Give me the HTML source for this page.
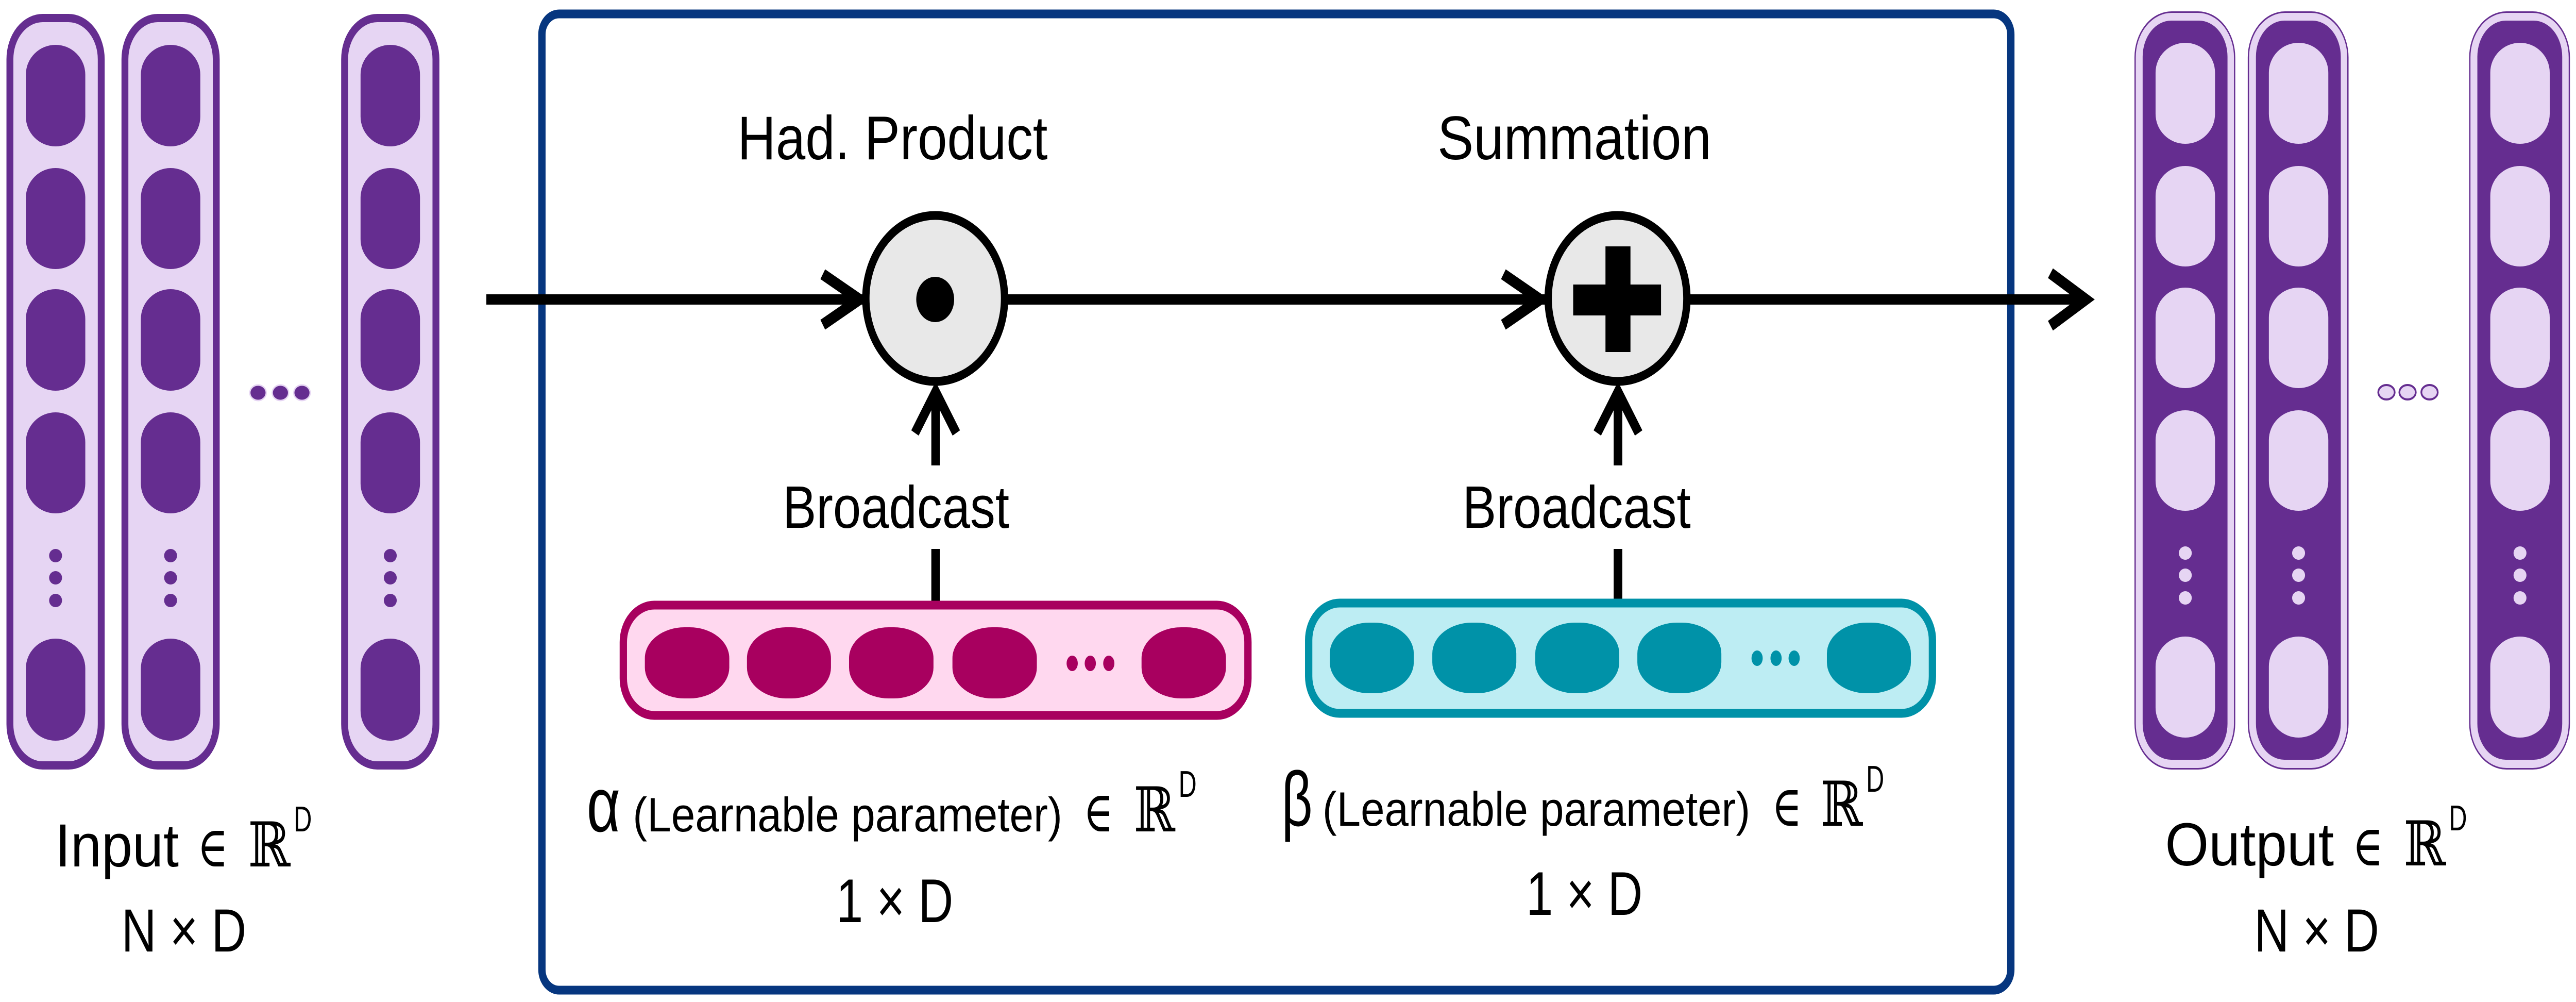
<!DOCTYPE html>
<html><head><meta charset="utf-8"><style>
html,body{margin:0;padding:0;background:#fff;overflow:hidden;width:100%;height:100%;}
svg{display:block;width:100vw;height:100vh;}
text{font-family:"Liberation Sans","DejaVu Sans",sans-serif;fill:#000;}
.m{font-family:"DejaVu Serif","Liberation Serif",serif;}
</style></head><body>
<svg viewBox="0 0 5980 1944" preserveAspectRatio="none" xmlns="http://www.w3.org/2000/svg">
<defs>
<g id="icol">
  <rect x="8" y="8" width="212" height="1450" rx="76" ry="80" fill="#e6d5f3" stroke="#652d90" stroke-width="16"/>
  <rect x="45" y="60" width="138" height="197" rx="69" ry="58" fill="#652d90"/>
  <rect x="45" y="299" width="138" height="196" rx="69" ry="58" fill="#652d90"/>
  <rect x="45" y="534" width="138" height="197" rx="69" ry="58" fill="#652d90"/>
  <rect x="45" y="773" width="138" height="196" rx="69" ry="58" fill="#652d90"/>
  <ellipse cx="114" cy="1051" rx="15" ry="13" fill="#652d90"/>
  <ellipse cx="114" cy="1094" rx="15" ry="13" fill="#652d90"/>
  <ellipse cx="114" cy="1138" rx="15" ry="13" fill="#652d90"/>
  <rect x="45" y="1212" width="138" height="198" rx="69" ry="58" fill="#652d90"/>
</g>
<g id="ocol">
  <rect x="1.5" y="1.5" width="231" height="1468" rx="85" ry="88" fill="#e6d5f3" stroke="#652d90" stroke-width="3"/>
  <rect x="19" y="18" width="197" height="1434" rx="66" ry="70" fill="#652d90"/>
  <rect x="49" y="61" width="138" height="196" rx="69" ry="58" fill="#e6d5f3"/>
  <rect x="49" y="300" width="138" height="195" rx="69" ry="58" fill="#e6d5f3"/>
  <rect x="49" y="536" width="138" height="195" rx="69" ry="58" fill="#e6d5f3"/>
  <rect x="49" y="774" width="138" height="195" rx="69" ry="58" fill="#e6d5f3"/>
  <ellipse cx="118" cy="1051" rx="15" ry="13" fill="#e6d5f3"/>
  <ellipse cx="118" cy="1094" rx="15" ry="13" fill="#e6d5f3"/>
  <ellipse cx="118" cy="1138" rx="15" ry="13" fill="#e6d5f3"/>
  <rect x="49" y="1213" width="138" height="196" rx="69" ry="58" fill="#e6d5f3"/>
</g>
</defs>

<use href="#icol" x="15" y="27"/>
<use href="#icol" x="282" y="27"/>
<use href="#icol" x="792" y="27"/>
<ellipse cx="599" cy="762" rx="19" ry="15" fill="#652d90" stroke="#e6d5f3" stroke-width="3"/>
<ellipse cx="651" cy="762" rx="19" ry="15" fill="#652d90" stroke="#e6d5f3" stroke-width="3"/>
<ellipse cx="701" cy="762" rx="19" ry="15" fill="#652d90" stroke="#e6d5f3" stroke-width="3"/>

<use href="#ocol" x="4955" y="22"/>
<use href="#ocol" x="5218" y="22"/>
<use href="#ocol" x="5732" y="22"/>
<ellipse cx="5540" cy="761" rx="19" ry="14" fill="#e6d5f3" stroke="#652d90" stroke-width="4"/>
<ellipse cx="5589" cy="761" rx="19" ry="14" fill="#e6d5f3" stroke="#652d90" stroke-width="4"/>
<ellipse cx="5640" cy="761" rx="19" ry="14" fill="#e6d5f3" stroke="#652d90" stroke-width="4"/>

<rect x="1258" y="27" width="3410" height="1894" rx="40" ry="40" fill="none" stroke="#06367f" stroke-width="17"/>

<line x1="1129" y1="581" x2="4840" y2="581" stroke="#000" stroke-width="20"/>
<polyline points="1910,532 1995,581 1910,630" fill="none" stroke="#000" stroke-width="22"/>
<polyline points="3490,532 3575,581 3490,630" fill="none" stroke="#000" stroke-width="22"/>
<polyline points="4760,530 4842,581 4760,632" fill="none" stroke="#000" stroke-width="22"/>

<circle cx="2171" cy="579" r="161" fill="#e8e8e8" stroke="#000" stroke-width="17"/>
<circle cx="2171" cy="581" r="44" fill="#000"/>
<circle cx="3755" cy="579" r="161" fill="#e8e8e8" stroke="#000" stroke-width="17"/>
<rect x="3727" y="478" width="58" height="205" fill="#000"/>
<rect x="3652" y="552" width="204" height="60" fill="#000"/>

<line x1="2172" y1="760" x2="2172" y2="903" stroke="#000" stroke-width="20"/>
<polyline points="2124,840 2172,760 2220,840" fill="none" stroke="#000" stroke-width="20"/>
<line x1="2172" y1="1065" x2="2172" y2="1175" stroke="#000" stroke-width="20"/>
<line x1="3756" y1="760" x2="3756" y2="903" stroke="#000" stroke-width="20"/>
<polyline points="3708,840 3756,760 3804,840" fill="none" stroke="#000" stroke-width="20"/>
<line x1="3756" y1="1065" x2="3756" y2="1170" stroke="#000" stroke-width="20"/>

<text x="1712" y="309" font-size="120" textLength="720" lengthAdjust="spacingAndGlyphs">Had. Product</text>
<text x="3337" y="309" font-size="120" textLength="636" lengthAdjust="spacingAndGlyphs">Summation</text>
<text x="1817" y="1024" font-size="116" textLength="526" lengthAdjust="spacingAndGlyphs">Broadcast</text>
<text x="3395" y="1024" font-size="116" textLength="530" lengthAdjust="spacingAndGlyphs">Broadcast</text>

<rect x="1447" y="1174" width="1450" height="214" rx="72" ry="72" fill="#ffd8ef" stroke="#a8005f" stroke-width="17"/>
<rect x="1497" y="1217" width="196" height="138" rx="92" ry="60" fill="#a8005f"/>
<rect x="1734" y="1217" width="195" height="138" rx="92" ry="60" fill="#a8005f"/>
<rect x="1971" y="1217" width="196" height="138" rx="92" ry="60" fill="#a8005f"/>
<rect x="2211" y="1217" width="196" height="138" rx="92" ry="60" fill="#a8005f"/>
<rect x="2650" y="1217" width="196" height="138" rx="92" ry="60" fill="#a8005f"/>
<ellipse cx="2489" cy="1287" rx="13" ry="15" fill="#a8005f"/>
<ellipse cx="2531" cy="1287" rx="13" ry="15" fill="#a8005f"/>
<ellipse cx="2574" cy="1287" rx="13" ry="15" fill="#a8005f"/>

<rect x="3038" y="1170" width="1448" height="214" rx="72" ry="72" fill="#bdedf3" stroke="#0092a8" stroke-width="17"/>
<rect x="3087" y="1208" width="195" height="137" rx="92" ry="60" fill="#0092a8"/>
<rect x="3325" y="1208" width="195" height="137" rx="92" ry="60" fill="#0092a8"/>
<rect x="3564" y="1208" width="195" height="137" rx="92" ry="60" fill="#0092a8"/>
<rect x="3801" y="1208" width="195" height="137" rx="92" ry="60" fill="#0092a8"/>
<rect x="4241" y="1208" width="195" height="137" rx="92" ry="60" fill="#0092a8"/>
<ellipse cx="4079" cy="1277" rx="13" ry="15" fill="#0092a8"/>
<ellipse cx="4123" cy="1277" rx="13" ry="15" fill="#0092a8"/>
<ellipse cx="4165" cy="1277" rx="13" ry="15" fill="#0092a8"/>

<text x="1362" y="1613" font-size="150" textLength="78" lengthAdjust="spacingAndGlyphs">α</text>
<text x="1469" y="1613" font-size="94" textLength="997" lengthAdjust="spacingAndGlyphs">(Learnable parameter)</text>
<text x="2515" y="1613" font-size="110" class="m" textLength="70" lengthAdjust="spacingAndGlyphs">∈</text>
<text x="2632" y="1613" font-size="120" class="m" textLength="96" lengthAdjust="spacingAndGlyphs">ℝ</text>
<text x="2736" y="1546" font-size="72" textLength="42" lengthAdjust="spacingAndGlyphs">D</text>
<text x="1941" y="1789" font-size="120" textLength="272" lengthAdjust="spacingAndGlyphs">1 × D</text>

<text x="2975" y="1602" font-size="150" textLength="72" lengthAdjust="spacingAndGlyphs">β</text>
<text x="3070" y="1602" font-size="94" textLength="993" lengthAdjust="spacingAndGlyphs">(Learnable parameter)</text>
<text x="4113" y="1602" font-size="110" class="m" textLength="70" lengthAdjust="spacingAndGlyphs">∈</text>
<text x="4226" y="1602" font-size="120" class="m" textLength="98" lengthAdjust="spacingAndGlyphs">ℝ</text>
<text x="4332" y="1536" font-size="72" textLength="42" lengthAdjust="spacingAndGlyphs">D</text>
<text x="3543" y="1775" font-size="120" textLength="270" lengthAdjust="spacingAndGlyphs">1 × D</text>

<text x="128" y="1681" font-size="118" textLength="287" lengthAdjust="spacingAndGlyphs">Input</text>
<text x="458" y="1681" font-size="110" class="m" textLength="72" lengthAdjust="spacingAndGlyphs">∈</text>
<text x="576" y="1681" font-size="120" class="m" textLength="98" lengthAdjust="spacingAndGlyphs">ℝ</text>
<text x="682" y="1613" font-size="70" textLength="42" lengthAdjust="spacingAndGlyphs">D</text>
<text x="282" y="1846" font-size="118" textLength="290" lengthAdjust="spacingAndGlyphs">N × D</text>

<text x="5026" y="1679" font-size="118" textLength="392" lengthAdjust="spacingAndGlyphs">Output</text>
<text x="5461" y="1679" font-size="110" class="m" textLength="72" lengthAdjust="spacingAndGlyphs">∈</text>
<text x="5580" y="1679" font-size="120" class="m" textLength="98" lengthAdjust="spacingAndGlyphs">ℝ</text>
<text x="5685" y="1611" font-size="70" textLength="42" lengthAdjust="spacingAndGlyphs">D</text>
<text x="5233" y="1846" font-size="118" textLength="290" lengthAdjust="spacingAndGlyphs">N × D</text>
</svg>
</body></html>
